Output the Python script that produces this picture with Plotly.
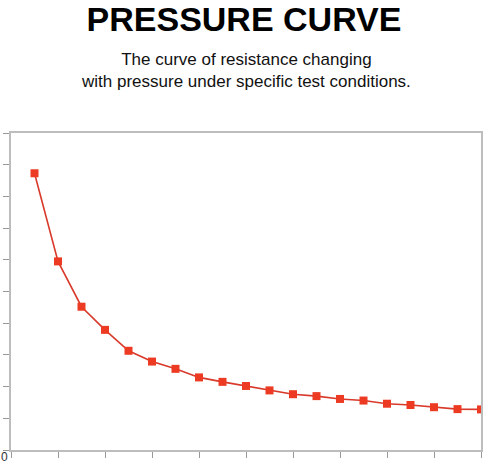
import plotly.graph_objects as go

# pressure steps and measured resistance (axis units, no labels shown)
pressure = [0.5, 1.0, 1.5, 2.0, 2.5, 3.0, 3.5, 4.0, 4.5, 5.0,
            5.5, 6.0, 6.5, 7.0, 7.5, 8.0, 8.5, 9.0, 9.5, 10.0]
resistance = [8.73, 5.95, 4.52, 3.79, 3.13, 2.79, 2.56, 2.29, 2.15, 2.02,
              1.88, 1.76, 1.70, 1.61, 1.56, 1.46, 1.42, 1.35, 1.29, 1.28]

title_text = "PRESSURE CURVE"
subtitle_text = "The curve of resistance changing<br>with pressure under specific test conditions."

axis_gray = "#bdbdbd"

trace = go.Scatter(x=pressure, y=resistance,
                   mode="lines+markers",
                   line=dict(color="#d8392a", width=1.6),
                   marker=dict(symbol="square", size=8, color="#ec3b22"),
                   hoverinfo="x+y")

layout = go.Layout(
    width=488, height=463,
    margin=dict(l=11, r=5, t=133, b=13),
    paper_bgcolor="white", plot_bgcolor="white",
    showlegend=False,
    font=dict(family="Liberation Sans, Arial, sans-serif", color="#111"),
    title=dict(text="<b>" + title_text + "</b>", x=0.5, xanchor="center",
               y=1 - 19 / 463, yanchor="middle",
               font=dict(size=34, color="#000")),
    xaxis=dict(range=[0, 10], dtick=1, tick0=0, showticklabels=False,
               ticks="outside", ticklen=6, tickcolor="#999", tickwidth=1,
               showline=True, linecolor=axis_gray, linewidth=2, mirror=True,
               showgrid=False, zeroline=False, fixedrange=True),
    yaxis=dict(range=[0, 10], dtick=1, tick0=0, showticklabels=False,
               ticks="outside", ticklen=6, tickcolor="#999", tickwidth=1,
               showline=True, linecolor=axis_gray, linewidth=2, mirror=True,
               showgrid=False, zeroline=False, fixedrange=True),
    annotations=[
        dict(text=subtitle_text, xref="paper", yref="paper",
             x=0.5, y=1.0, yshift=63, xanchor="center", yanchor="middle",
             showarrow=False, align="center",
             font=dict(size=17, color="#111")),
        dict(text="0", xref="paper", yref="paper", x=0, y=0,
             xshift=-7, yshift=-7, xanchor="center", yanchor="middle",
             showarrow=False, font=dict(size=12, color="#333")),
    ],
)

fig = go.Figure(data=[trace], layout=layout)
fig.write_html("out.html", config={"displayModeBar": False},
               post_script="document.body.style.margin='0';")
